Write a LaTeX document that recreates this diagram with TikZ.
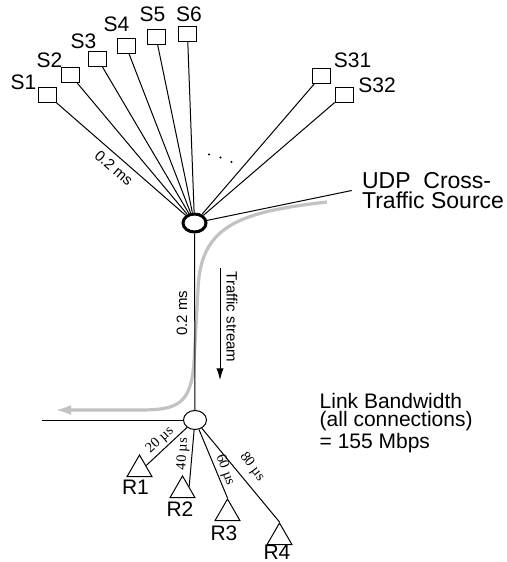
\documentclass[tikz,border=0pt]{standalone}
\usepackage{fontspec}
\setmainfont{Liberation Sans}
\newfontfamily\muserif{Liberation Serif}
\usetikzlibrary{shapes.geometric,arrows.meta}
\definecolor{streamgray}{gray}{0.76}

\begin{document}
\begin{tikzpicture}[x=0.5pt,y=-0.5pt,
  link/.style={draw=black,line width=0.5pt},
  source/.style={rectangle,draw=black,line width=0.5pt,fill=white,inner sep=0pt,minimum width=9pt,minimum height=7.5pt},
  crossnode/.style={ellipse,draw=black,line width=1.5pt,fill=white,inner sep=0pt,minimum width=11.5pt,minimum height=9pt},
  router/.style={ellipse,draw=black,line width=0.5pt,fill=white,inner sep=0pt,minimum width=11.5pt,minimum height=9.5pt},
  receiver/.style={regular polygon,regular polygon sides=3,draw=black,line width=0.5pt,inner sep=0pt,minimum size=14.4pt},
  tag/.style={inner sep=0pt,font=\fontsize{10.5}{12}\selectfont},
  delay/.style={inner sep=0pt,font=\fontsize{7.5}{8}\selectfont},
  udelay/.style={inner sep=0pt,font=\muserif\fontsize{7.2}{8}\selectfont},
  stream/.style={draw=streamgray,line width=1.6pt,-{Latex[length=8pt,width=5pt]}}]
\useasboundingbox (0,0) rectangle (507,562);
\coordinate (flowin) at (327,202);
\coordinate (flowout) at (55,410);
\draw[stream] (flowin) .. controls (240,212) and (200,225) .. (198,290) -- (194,362) .. controls (191,404) and (178,410) .. (140,410) -- (flowout);
\node[crossnode] (hub) at (194.5,223) {};
\node[router] (rtr) at (195,420) {};
\node[source] (s1) at (47,94.5) {};
\node[source] (s2) at (70.5,75) {};
\node[source] (s3) at (97.5,58.5) {};
\node[source] (s4) at (126,46) {};
\node[source] (s5) at (156,36.8) {};
\node[source] (s6) at (187.5,34) {};
\node[source] (s31) at (321.5,75.5) {};
\node[source] (s32) at (344,94.5) {};
\node[tag] (s1lbl) at (23.5,82) {S1};
\node[tag] (s2lbl) at (49.5,60) {S2};
\node[tag] (s3lbl) at (83.5,41.5) {S3};
\node[tag] (s4lbl) at (116.5,24.5) {S4};
\node[tag] (s5lbl) at (152.5,14) {S5};
\node[tag] (s6lbl) at (189,14) {S6};
\node[tag] (s31lbl) at (352.5,60) {S31};
\node[tag] (s32lbl) at (377,85) {S32};
\node[receiver] (r1) at (139.5,469.4) {};
\node[receiver] (r2) at (182.5,490.4) {};
\node[receiver] (r3) at (227.5,513.4) {};
\node[receiver] (r4) at (279.5,537.4) {};
\node[tag] (r1lbl) at (135.5,487.5) {R1};
\node[tag] (r2lbl) at (180,509) {R2};
\node[tag] (r3lbl) at (224,533) {R3};
\node[tag] (r4lbl) at (277,552) {R4};
\foreach \s in {s1,s2,s3,s4,s5,s6,s31,s32}
  \draw[link] (\s) -- (hub);
\foreach \p in {(209,154.5),(220.5,157.5),(231.5,162)}
  \fill \p circle (0.6pt);
\node[anchor=west,inner sep=0pt,align=left,font=\fontsize{11.5}{10.25}\selectfont] (udp) at (361.7,190.5) {UDP~~Cross-\\Traffic Source};
\draw[link] (hub) -- ([xshift=-5pt]udp.west);
\draw[link] (hub) -- (rtr);
\coordinate (outl) at (42,420);
\draw[link] (rtr) -- (outl);
\draw[link] (rtr) -- (r1.side 3);
\draw[link] (rtr) -- (r2.side 3);
\draw[link] (rtr) -- (r3.corner 1);
\draw[link] (rtr) -- (r4.corner 1);
\coordinate (tstop) at (220,268);
\coordinate (tsbot) at (220,380);
\draw[link,-{Latex[length=5.8pt,width=3.6pt]}] (tstop) -- (tsbot);
\node[delay,rotate=-41] (d1) at (114,168) {0.2 ms};
\node[delay,rotate=90] (d2) at (182,313) {0.2 ms};
\node[delay,rotate=-90] (tslbl) at (232,317) {Traffic stream};
\node[udelay,rotate=42] (u1) at (160,440) {20 µs};
\node[udelay,rotate=87] (u2) at (183,454) {40 µs};
\node[udelay,rotate=-70] (u3) at (225,470) {60 µs};
\node[udelay,rotate=-53] (u4) at (252,467) {80 µs};
\node[anchor=west,inner sep=0pt,align=left,font=\fontsize{10.5}{9}\selectfont] (bw) at (319.3,423) {Link Bandwidth\\(all connections)\\= 155 Mbps};
\end{tikzpicture}
\end{document}
